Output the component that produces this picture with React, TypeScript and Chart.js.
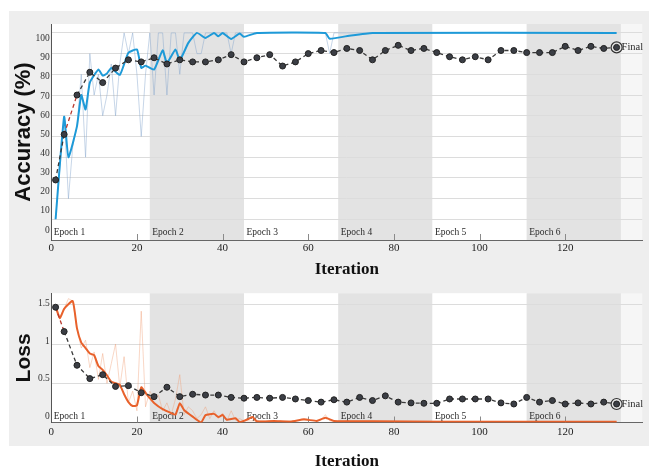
import React, { useEffect, useRef } from 'react';
import { Chart, registerables } from 'chart.js';
Chart.register(...registerables);

const SERIF = '"Liberation Serif", "Times New Roman", serif';
const SANS = '"Liberation Sans", Arial, sans-serif';

// ---- shared ----
const epochEdges = [0, 23, 45, 67, 89, 111, 133];
const epochNames = ['Epoch 1', 'Epoch 2', 'Epoch 3', 'Epoch 4', 'Epoch 5', 'Epoch 6'];
const innerTicks = [20, 40, 60, 80, 100, 120];

// ---- accuracy ----
const accRawIter = [1, 2, 3, 4, 5, 6, 7, 8, 9, 10, 11, 12, 13, 14, 15, 16, 17, 18, 19, 20, 21, 22, 23, 24, 25, 26, 27, 28, 29, 30, 31, 32, 33, 34, 35, 36, 37, 38, 39, 40, 41, 42, 43, 44, 45, 63, 64, 65, 66, 132];
const accRawVal = [10, 35, 60, 20, 45, 55, 80, 40, 90, 70, 80, 60, 70, 85, 60, 85, 100, 90, 100, 80, 50, 80, 100, 70, 100, 100, 70, 100, 100, 80, 100, 100, 100, 90, 90, 100, 100, 100, 100, 100, 100, 90, 100, 100, 100, 100, 100, 90, 100, 100];

const accSmoothIter = [1, 3, 4, 6, 7, 8, 9, 11, 12, 13, 14, 16, 18, 20, 21, 22, 24, 26, 27, 29, 30, 32, 34, 36, 38, 39, 40, 42, 44, 45, 48, 64, 65, 70, 75, 132];
const accSmoothVal = [10, 59.5, 40, 55, 70, 63, 76, 82.3, 79.4, 80.4, 83.1, 79.7, 90.4, 92, 83.1, 84.2, 82.3, 91.6, 85.5, 92, 86.8, 95.2, 100, 97.6, 100, 98.4, 100, 97.1, 99.7, 98.1, 100, 100, 97.2, 98.8, 100, 100];

const valIter = [1, 3, 6, 9, 12, 15, 18, 21, 24, 27, 30, 33, 36, 39, 42, 45, 48, 51, 54, 57, 60, 63, 66, 69, 72, 75, 78, 81, 84, 87, 90, 93, 96, 99, 102, 105, 108, 111, 114, 117, 120, 123, 126, 129, 132];
const accValVal = [29, 51, 70, 81, 76, 83, 87, 86, 88, 85, 87, 86, 86, 87, 89.5, 86, 88, 89.5, 84, 86, 90, 91.5, 90.5, 92.5, 91.5, 87, 91.5, 94, 91.5, 92.5, 90.5, 88.5, 87, 88.5, 87, 91.5, 91.5, 90.5, 90.5, 90.5, 93.5, 91.5, 93.5, 92.5, 93];

const accTickVals = [0, 10, 20, 30, 40, 50, 60, 70, 80, 90, 100];

// ---- loss ----
const lossRawIter = [1, 2, 3, 4, 5, 6, 7, 8, 9, 10, 11, 12, 13, 14, 15, 16, 17, 18, 19, 20, 21, 22, 23, 24, 25, 26, 27, 28, 29, 30, 31, 32, 33, 34, 35, 36, 37, 38, 39, 40, 41, 42, 43, 44, 45, 50, 63, 64, 65, 132];
const lossRawVal = [1.5, 1.35, 1.45, 1.58, 1.55, 1.2, 0.95, 1.05, 0.7, 0.9, 0.55, 0.88, 0.5, 0.75, 1.0, 0.45, 0.84, 0.25, 0.4, 0.15, 1.42, 0.2, 0.4, 0.3, 0.35, 0.15, 0.25, 0.1, 0.3, 0.61, 0.1, 0.2, 0.15, 0.05, 0.1, 0.2, 0.05, 0.15, 0.05, 0.12, 0.02, 0.15, 0.03, 0.05, 0.02, 0.02, 0.03, 0.1, 0.02, 0.01];

const lossSmoothIter = [1, 2, 3, 5, 6, 7, 8, 9, 10, 11, 12, 13, 14, 15, 16, 17, 18, 19, 20, 21, 22, 23, 24, 26, 28, 29, 30, 31, 33, 35, 36, 38, 39, 40, 41, 43, 44, 46, 47, 48, 52, 56, 59, 62, 64, 66, 75, 90, 110, 132];
const lossSmoothVal = [1.48, 1.33, 1.45, 1.55, 1.2, 1.02, 0.95, 0.88, 0.86, 0.72, 0.67, 0.6, 0.52, 0.5, 0.48, 0.36, 0.26, 0.21, 0.22, 0.45, 0.38, 0.31, 0.25, 0.17, 0.12, 0.1, 0.245, 0.16, 0.075, 0, 0.095, 0.11, 0.07, 0.095, 0.035, 0.055, 0.005, 0.045, 0.07, 0.015, 0.02, 0.01, 0.04, 0.02, 0.06, 0.02, 0.015, 0.01, 0.01, 0.01];

const lossValVal = [1.47, 1.16, 0.73, 0.56, 0.61, 0.46, 0.47, 0.38, 0.33, 0.45, 0.33, 0.36, 0.35, 0.35, 0.32, 0.31, 0.32, 0.31, 0.32, 0.3, 0.28, 0.26, 0.29, 0.26, 0.32, 0.28, 0.34, 0.26, 0.25, 0.245, 0.245, 0.3, 0.3, 0.3, 0.3, 0.25, 0.236, 0.32, 0.26, 0.28, 0.236, 0.25, 0.236, 0.26, 0.236];

const lossTickVals = [0, 0.5, 1, 1.5];

const pts = (xs: number[], ys: number[]) => xs.map((x, i) => ({ x, y: ys[i] }));

function epochPlugin(labelOffset: number) {
  return {
    id: 'epochs',
    beforeDraw(chart: any) {
      const { ctx, chartArea: a, scales } = chart;
      const x = scales.x;
      ctx.save();
      ctx.fillStyle = '#f6f6f6';
      ctx.fillRect(a.left, a.top, a.right - a.left, a.bottom - a.top);
      for (let i = 0; i < epochNames.length; i++) {
        const x0 = x.getPixelForValue(epochEdges[i]);
        const x1 = x.getPixelForValue(epochEdges[i + 1]);
        ctx.fillStyle = i % 2 === 0 ? '#ffffff' : '#e3e3e3';
        ctx.fillRect(x0, a.top, x1 - x0, a.bottom - a.top);
      }
      ctx.restore();
    },
    beforeDatasetsDraw(chart: any) {
      const { ctx, chartArea: a, scales } = chart;
      const x = scales.x;
      ctx.save();
      ctx.font = `9.5px ${SERIF}`;
      ctx.fillStyle = '#2a2a2a';
      ctx.textBaseline = 'middle';
      ctx.textAlign = 'left';
      for (let i = 0; i < epochNames.length; i++) {
        ctx.fillText(epochNames[i], x.getPixelForValue(epochEdges[i]) + 2.5, a.bottom - labelOffset);
      }
      ctx.strokeStyle = '#8a8a8a';
      ctx.lineWidth = 1;
      for (const t of innerTicks) {
        const px = Math.round(x.getPixelForValue(t)) + 0.5;
        ctx.beginPath();
        ctx.moveTo(px, a.bottom - 6);
        ctx.lineTo(px, a.bottom);
        ctx.stroke();
      }
      ctx.restore();
    },
    afterDatasetsDraw(chart: any) {
      const { ctx } = chart;
      const meta = chart.getDatasetMeta(0);
      const last = meta.data[meta.data.length - 1];
      if (!last) return;
      ctx.save();
      ctx.font = `10.5px ${SERIF}`;
      ctx.fillStyle = '#2a2a2a';
      ctx.textBaseline = 'middle';
      ctx.textAlign = 'left';
      ctx.fillText('Final', last.x + 5, last.y);
      ctx.restore();
    },
  };
}

function makeOptions(cfg: any) {
  return {
    responsive: false,
    animation: false,
    layout: { padding: { top: cfg.padTop, right: 3, left: 0, bottom: 0 } },
    plugins: { legend: { display: false }, tooltip: { enabled: false } },
    scales: {
      x: {
        type: 'linear',
        min: 0,
        max: 138,
        afterFit: (s: any) => { s.height = cfg.xHeight; },
        grid: { display: false, drawTicks: false },
        border: { display: true, color: '#666', width: 1 },
        ticks: {
          stepSize: 20,
          includeBounds: false,
          padding: cfg.xTickPad,
          color: '#222',
          font: { family: SERIF, size: 11 },
          maxRotation: 0,
        },
        title: {
          display: true,
          text: 'Iteration',
          color: '#111',
          font: { family: SERIF, size: 17, weight: 'bold' },
          padding: { top: 0, bottom: cfg.xTitlePad },
        },
      },
      y: {
        position: 'left',
        min: 0,
        max: cfg.yMax,
        afterFit: (s: any) => { s.width = 0; },
        grid: { display: true, color: '#dcdcdc', lineWidth: 1, drawTicks: false },
        border: { display: false },
        ticks: { display: false, stepSize: cfg.step, includeBounds: false },
      },
      y2: {
        position: 'left',
        min: cfg.lblMin,
        max: cfg.lblMax,
        afterFit: (s: any) => { s.width = 51.3; },
        grid: { display: false, drawTicks: false },
        border: { display: true, color: '#555', width: 1 },
        afterBuildTicks: (s: any) => { s.ticks = cfg.tickVals.map((v: number) => ({ value: v })); },
        ticks: {
          padding: 1.5,
          color: '#333',
          font: { family: SERIF, size: 9.5 },
          callback: (v: any) => String(v),
        },
        title: {
          display: true,
          text: cfg.title,
          color: '#111',
          font: { family: SANS, size: cfg.titleSize, weight: 'bold' },
          padding: { top: cfg.yTitlePad, bottom: 0 },
        },
      },
    },
  };
}

function valDataset(xs: number[], ys: number[], redIdx: number) {
  return {
    data: pts(xs, ys),
    yAxisID: 'y',
    borderColor: '#3a3a3a',
    borderWidth: 1.3,
    borderDash: [4, 3],
    pointRadius: 3,
    pointBackgroundColor: '#3b3e45',
    pointBorderColor: '#222',
    pointBorderWidth: 1,
    tension: 0,
    segment: {
      borderColor: (ctx: any) => (ctx.p0DataIndex === redIdx ? '#b8392e' : undefined),
    },
  };
}

function finalDataset(xs: number[], ys: number[]) {
  const i = xs.length - 1;
  return {
    data: [{ x: xs[i], y: ys[i] }],
    yAxisID: 'y',
    showLine: false,
    pointRadius: 5.5,
    pointBackgroundColor: 'rgba(255,255,255,0)',
    pointBorderColor: '#333',
    pointBorderWidth: 1.2,
  };
}

export default function App() {
  const topRef = useRef<HTMLCanvasElement | null>(null);
  const botRef = useRef<HTMLCanvasElement | null>(null);

  useEffect(() => {
    const c1 = new Chart(topRef.current as HTMLCanvasElement, {
      type: 'line',
      data: {
        datasets: [
          valDataset(valIter, accValVal, 1),
          finalDataset(valIter, accValVal),
          {
            data: pts(accSmoothIter, accSmoothVal),
            yAxisID: 'y',
            borderColor: '#1e9ad8',
            borderWidth: 2,
            pointRadius: 0,
            tension: 0.15,
          },
          {
            data: pts(accRawIter, accRawVal),
            yAxisID: 'y',
            borderColor: 'rgba(130,165,205,0.5)',
            borderWidth: 0.9,
            pointRadius: 0,
            tension: 0,
          },
        ],
      } as any,
      options: makeOptions({
        padTop: 24,
        xHeight: 40,
        xTickPad: 2,
        xTitlePad: 0,
        yMax: 104.3,
        step: 10,
        lblMin: -5.2,
        lblMax: 107.7,
        tickVals: accTickVals,
        title: 'Accuracy (%)',
        titleSize: 22,
        yTitlePad: 11,
      }) as any,
      plugins: [epochPlugin(8)],
    });

    const c2 = new Chart(botRef.current as HTMLCanvasElement, {
      type: 'line',
      data: {
        datasets: [
          valDataset(valIter, lossValVal, 0),
          finalDataset(valIter, lossValVal),
          {
            data: pts(lossSmoothIter, lossSmoothVal),
            yAxisID: 'y',
            borderColor: '#e8612b',
            borderWidth: 2,
            pointRadius: 0,
            tension: 0.15,
          },
          {
            data: pts(lossRawIter, lossRawVal),
            yAxisID: 'y',
            borderColor: 'rgba(240,155,115,0.45)',
            borderWidth: 0.9,
            pointRadius: 0,
            tension: 0,
          },
        ],
      } as any,
      options: makeOptions({
        padTop: 13.3,
        xHeight: 49.5,
        xTickPad: 3,
        xTitlePad: 0,
        yMax: 1.648,
        step: 0.5,
        lblMin: -0.077,
        lblMax: 1.632,
        tickVals: lossTickVals,
        title: 'Loss',
        titleSize: 21,
        yTitlePad: 12,
      }) as any,
      plugins: [epochPlugin(6)],
    });

    return () => {
      c1.destroy();
      c2.destroy();
    };
  }, []);

  return (
    <div style={{ position: 'fixed', left: 0, top: 0, width: 649, height: 466, overflow: 'hidden', background: '#ffffff' }}>
      <div style={{ position: 'absolute', left: 9, top: 11, width: 640, height: 435, background: '#eeeeee' }} />
      <canvas ref={topRef} width={649} height={280} style={{ position: 'absolute', left: 0, top: 0, width: 649, height: 280 }} />
      <canvas ref={botRef} width={649} height={192} style={{ position: 'absolute', left: 0, top: 280, width: 649, height: 192 }} />
    </div>
  );
}
